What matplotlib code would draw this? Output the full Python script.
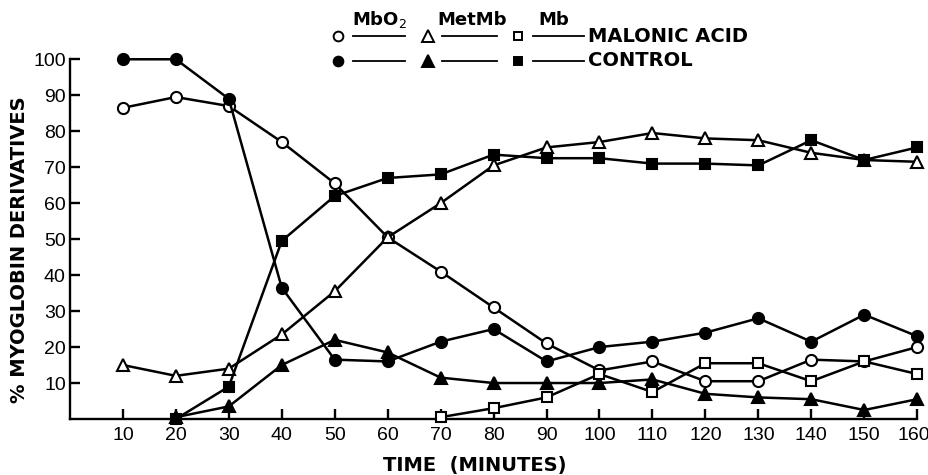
"""Myoglobin derivatives over time, malonic acid vs control."""

import matplotlib

matplotlib.use("Agg")

import matplotlib.pyplot as plt
import matplotlib.transforms as mtransforms
import numpy as np
from matplotlib.lines import Line2D

TIME = [10, 20, 30, 40, 50, 60, 70, 80, 90, 100, 110, 120, 130, 140, 150, 160]
NAN = np.nan

# % of total myoglobin
MBO2_MALONIC = [86.5, 89.5, 87, 77, 65.5, 50.5, 41, 31, 21, 13.5, 16, 10.5, 10.5, 16.5, 16, 20]
MBO2_CONTROL = [100, 100, 89, 36.5, 16.5, 16, 21.5, 25, 16, 20, 21.5, 24, 28, 21.5, 29, 23]
METMB_MALONIC = [15, 12, 14, 23.5, 35.5, 50.5, 60, 70.5, 75.5, 77, 79.5, 78, 77.5, 74, 72, 71.5]
METMB_CONTROL = [NAN, 0.5, 3.5, 15, 22, 18.5, 11.5, 10, 10, 10, 11, 7, 6, 5.5, 2.5, 5.5]
MB_MALONIC = [NAN, NAN, NAN, NAN, NAN, NAN, 0.5, 3, 6, 12.5, 7.5, 15.5, 15.5, 10.5, 16, 12.5]
MB_CONTROL = [NAN, 0, 9, 49.5, 62, 67, 68, 73.5, 72.5, 72.5, 71, 71, 70.5, 77.5, 72, 75.5]

X_TICKS = TIME
Y_TICKS = [10, 20, 30, 40, 50, 60, 70, 80, 90, 100]

SERIES = [
    (MBO2_MALONIC, "o", "white", 8),
    (MBO2_CONTROL, "o", "black", 8),
    (METMB_MALONIC, "^", "white", 9),
    (METMB_CONTROL, "^", "black", 9),
    (MB_MALONIC, "s", "white", 7),
    (MB_CONTROL, "s", "black", 7),
]

plt.rcParams["font.family"] = ["DejaVu Sans"]

fig = plt.figure(figsize=(9.29, 4.75), dpi=100)
ax = fig.add_axes([0.0753, 0.1179, 0.912, 0.7573])

for values, marker, face, size in SERIES:
    y = np.array(values, dtype=float)
    ax.plot(
        TIME, y,
        color="black", linewidth=1.8,
        marker=marker, markersize=size,
        markerfacecolor=face, markeredgecolor="black", markeredgewidth=1.5,
        clip_on=False, zorder=3,
    )

ax.set_xlim(0, 160)
ax.set_ylim(0, 100)
ax.set_xticks(X_TICKS)
ax.set_yticks(Y_TICKS)
ax.tick_params(direction="in", length=7, width=1.7, pad=6)
ax.tick_params(axis="y", pad=3)
for side in ("top", "right"):
    ax.spines[side].set_visible(False)
for side in ("left", "bottom"):
    ax.spines[side].set_linewidth(1.7)

for lab in ax.get_xticklabels() + ax.get_yticklabels():
    lab.set_family("Liberation Sans")
    lab.set_fontsize(14)
# keep the last label inside the canvas
last = ax.get_xticklabels()[-1]
last.set_transform(last.get_transform() + mtransforms.ScaledTranslation(-3 / 100, 0, fig.dpi_scale_trans))

ax.set_xlabel("TIME  (MINUTES)", fontsize=14, fontweight="bold", va="center")
ax.xaxis.set_label_coords(0.478, -0.13)
ax.set_ylabel("% MYOGLOBIN DERIVATIVES", fontsize=14, fontweight="bold", va="center")
ax.yaxis.set_label_coords(-0.06, 0.47)

# legend drawn by hand: column headers above, row labels on the right
W, H = 929.0, 475.0


def fx(px):
    return px / W


def fy(py):
    return 1 - py / H


rows = [(36, "white", "MALONIC ACID"), (61, "black", "CONTROL")]
cols = [("o", 338, 353, 405, 7), ("^", 428, 442, 497, 8), ("s", 518, 533, 584, 6)]
for py, face, label in rows:
    for marker, mx, x0, x1, size in cols:
        fig.add_artist(Line2D([fx(x0), fx(x1)], [fy(py), fy(py)], color="black", linewidth=1.3))
        fig.add_artist(Line2D([fx(mx)], [fy(py)], marker=marker, markersize=size,
                              markerfacecolor=face, markeredgecolor="black",
                              markeredgewidth=1.4, linestyle="none"))
    fig.text(fx(588), fy(py), label, fontsize=14, fontweight="bold", va="center", ha="left")

for text, cx in [("MbO$_2$", 380), ("MetMb", 472), ("Mb", 554)]:
    fig.text(fx(cx), fy(20), text, fontsize=13, fontweight="bold", va="center", ha="center")

fig.savefig("out.png", dpi=100)
